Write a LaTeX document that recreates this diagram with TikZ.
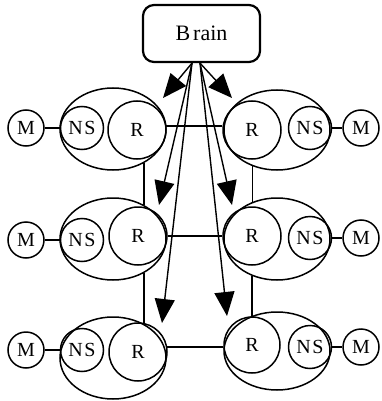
\documentclass[tikz,border=0pt]{standalone}
\usepackage{fontspec}
\setmainfont{Liberation Serif}
\usetikzlibrary{shapes.geometric,arrows.meta,calc}
\begin{document}
\begin{tikzpicture}[x=1pt,y=-1pt,
  unit/.style={draw, line width=1.5pt, circle, inner sep=0pt, font=\fontsize{20}{20}\selectfont},
  mcirc/.style={unit, minimum size=36pt},
  nscirc/.style={unit, minimum size=43pt},
  rcirc/.style={unit, minimum size=58pt},
  group/.style={draw, line width=1.5pt, ellipse, inner sep=0pt, minimum width=106pt, minimum height=82pt},
  link/.style={line width=1.5pt},
  arr/.style={line width=1.4pt, -{Triangle[length=24pt,width=20pt]}},
  boxstyle/.style={draw, line width=2.2pt, rounded corners=11pt, minimum width=117pt, minimum height=57pt, font=\fontsize{22}{22}\selectfont}
]
\useasboundingbox (0,0) rectangle (381,401);

% Brain
\node[boxstyle] (brain) at (201.5,33.5) {B\kern3pt rain};

% Row 1
\node[group] (le1) at (113,129) {};
\node[rcirc] (lr1) at (137,130) {R};
\node[nscirc] (ln1) at (82,128) {N\kern1.5pt S};
\node[mcirc] (lm1) at (26,128) {M};
\node[group, minimum height=80pt] (re1) at (277,130) {};
\node[rcirc] (rr1) at (252,130) {R};
\node[nscirc] (rn1) at (310,128) {N\kern1.5pt S};
\node[mcirc] (rm1) at (361,128) {M};

% Row 2
\node[group] (le2) at (113,239) {};
\node[rcirc] (lr2) at (138,236) {R};
\node[nscirc] (ln2) at (82,240) {N\kern1.5pt S};
\node[mcirc] (lm2) at (26,240) {M};
\node[group] (re2) at (277,239) {};
\node[rcirc] (rr2) at (252,236) {R};
\node[nscirc] (rn2) at (310,238) {N\kern1.5pt S};
\node[mcirc] (rm2) at (361,238) {M};

% Row 3
\node[group] (le3) at (113,358) {};
\node[rcirc] (lr3) at (138,352) {R};
\node[nscirc] (ln3) at (82,350) {N\kern1.5pt S};
\node[mcirc] (lm3) at (26,350) {M};
\node[group, minimum height=78pt] (re3) at (277,351) {};
\node[rcirc, minimum size=56pt] (rr3) at (252,345) {R};
\node[nscirc] (rn3) at (310,347) {N\kern1.5pt S};
\node[mcirc] (rm3) at (361,347) {M};

% M -- NS links
\draw[link] (lm1) -- (ln1);
\draw[link] (rn1) -- (rm1);
\draw[link] (lm2) -- (ln2);
\draw[link] (rn2) -- (rm2);
\draw[link] (lm3) -- (ln3);
\draw[link] (rn3) -- (rm3);

% R -- R links
\draw[link] (lr1.8) -- (lr1.8 -| rr1.west);
\draw[link] (lr2.east) -- (rr2.west);
\draw[link] (lr3.10) -- (lr3.10 -| rr3.west);

% vertical links
\draw[link] (le1.-48) -- (le2.48);
\draw[link] (le2.-48) -- (le2.-48 |- le3.48);
\draw[link] (re1.236) -- (re2.124 -| re1.236);
\draw[link] (re2.236) -- (re2.236 |- rr3.north);

% arrows
\coordinate (bl) at ($(brain.south)+(-9.5,0)$);
\coordinate (br) at ($(brain.south)+(-1.5,0)$);
\coordinate (t1) at (163,98);
\coordinate (t2) at (232,98);
\coordinate (t3) at (159,205);
\coordinate (t4) at (232,205);
\coordinate (t5) at (162,323);
\coordinate (t6) at (227,316);
\draw[arr] (bl) -- (t1);
\draw[arr] (br) -- (t2);
\draw[arr] (bl) -- (t3);
\draw[arr] (br) -- (t4);
\draw[arr] (bl) -- (t5);
\draw[arr] (br) -- (t6);
\end{tikzpicture}
\end{document}
